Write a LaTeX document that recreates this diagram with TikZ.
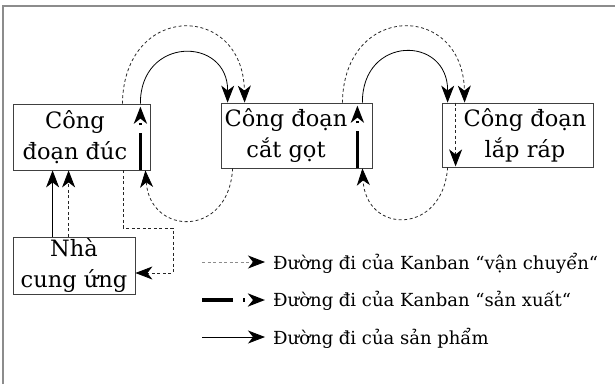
\documentclass[tikz,border=0pt]{standalone}
\usepackage{fontspec}
\setmainfont{DejaVu Serif}
\usetikzlibrary{arrows.meta}

\begin{document}
\begin{tikzpicture}[
  x=1pt, y=-1pt,
  stage/.style={rectangle, draw=black!75, line width=0.8pt, inner sep=0pt},
  lbl/.style={align=center, font=\fontsize{22.5}{31}\selectfont, inner sep=0pt},
  leg/.style={anchor=west, font=\fontsize{18}{22}\selectfont, inner sep=0pt},
  tip/.style={-{Stealth[length=17pt, width=13pt, inset=5pt, color=black]}},
  prod/.style={tip, line width=0.8pt},
  kbmove/.style={tip, line width=0.8pt, draw=black!85, dash pattern=on 3pt off 2.5pt},
  kbmake/.style={tip, line width=3.5pt, dash pattern=on 37pt off 8pt on 2pt off 60pt},
]
\useasboundingbox (0,0) rectangle (615,384);

% frame
\draw[black!45, line width=1.5pt] (3,384) -- (3,6) -- (615,6);

% === stages ===
\node[stage, minimum width=137pt, minimum height=66pt] (duc) at (81.5,137) {};
\node[stage, minimum width=151pt, minimum height=65pt] (catgot) at (296.5,135.5) {};
\node[stage, minimum width=151pt, minimum height=64pt] (laprap) at (517.5,135) {};
\node[stage, minimum width=122pt, minimum height=57pt] (nhacc) at (74,265.5) {};

\node[lbl] (ducT) at (75,137) {Công\\đoạn đúc};
\node[lbl] (catgotT) at (286,135.5) {Công đoạn\\cắt gọt};
\node[lbl] (laprapT) at (525,135) {Công đoạn\\lắp ráp};
\node[lbl] (nhaccT) at (74,265.5) {Nhà\\cung ứng};

% === supplier -> casting ===
\draw[prod] ([xshift=40pt]nhacc.north west) -- ([xshift=40pt]duc.south west);
\draw[kbmove] ([xshift=56pt]nhacc.north west) -- ([xshift=56pt]duc.south west);

% === casting -> machining ===
\draw[prod] ([xshift=-10pt]duc.north east) .. controls (140,36) and (228,36) .. ([xshift=7pt]catgot.north west);
\draw[kbmove] ([xshift=-28pt]duc.north east) .. controls (124,2) and (243,2) .. ([xshift=24pt]catgot.north west);
\draw[kbmake] ([xshift=-10pt]duc.south east) -- ([xshift=-10pt, yshift=-3pt]duc.north east);
\draw[kbmove] ([xshift=12pt]catgot.south west) .. controls (229,238) and (150,236) .. ([xshift=-5pt]duc.south east);
\draw[kbmove] ([xshift=-27pt]duc.south east) |- (173,228) |- ([yshift=-7.5pt]nhacc.east);

% === machining -> assembly ===
\draw[prod] ([xshift=-10pt]catgot.north east) .. controls (362,35) and (448,35) .. ([xshift=6pt]laprap.north west);
\draw[kbmove] ([xshift=-30pt]catgot.north east) .. controls (344,2) and (463,2) .. ([xshift=23pt]laprap.north west);
\draw[kbmake] ([xshift=-15pt]catgot.south east) -- ([xshift=-15pt, yshift=-3pt]catgot.north east);
\draw[kbmove] ([xshift=14pt]laprap.north west) -- ([xshift=14pt, yshift=1pt]laprap.south west);
\draw[kbmove] ([xshift=6pt]laprap.south west) .. controls (443,235) and (366,235) .. ([xshift=-10pt]catgot.south east);

% === legend ===
\coordinate (s1) at (202,262);
\coordinate (s2) at (202,300);
\coordinate (s3) at (202,337);
\node[leg] (lg1) at (273,263) {Đường đi của Kanban “vận chuyển“};
\node[leg] (lg2) at (273,301) {Đường đi của Kanban “sản xuất“};
\node[leg] (lg3) at (273,338) {Đường đi của sản phẩm};
\draw[kbmove, draw=black!45] (s1) -- ([xshift=-8pt]lg1.west |- s1);
\draw[kbmake, dash pattern=on 31pt off 10pt on 2pt off 60pt] (s2) -- ([xshift=-8pt]lg2.west |- s2);
\draw[prod] (s3) -- ([xshift=-8pt]lg3.west |- s3);

\end{tikzpicture}
\end{document}
